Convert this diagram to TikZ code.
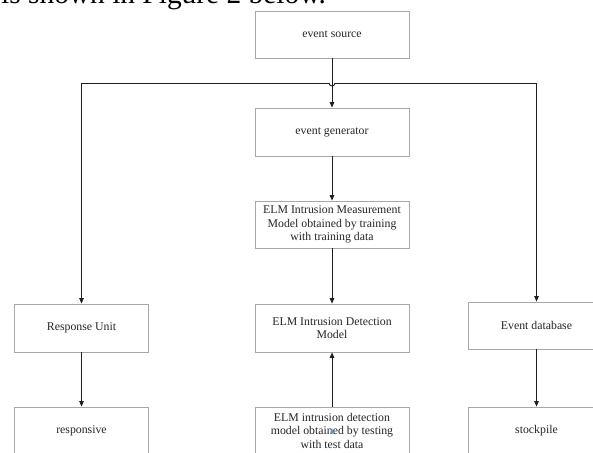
\documentclass[tikz,border=0pt]{standalone}
\usepackage{fontspec}
\setmainfont{Liberation Serif}
\usetikzlibrary{arrows.meta,shadows}
\definecolor{boxline}{HTML}{A8A8A8}
\definecolor{shadowc}{HTML}{C3CBD9}
\definecolor{txt}{HTML}{262626}
\definecolor{cursorblue}{HTML}{5B9BD5}
\tikzset{
  boxnode/.style={draw=boxline, line width=0.8pt, fill=white, inner sep=0pt,
    align=center, text=txt, font=\fontsize{11.8}{13.5}\selectfont,
    drop shadow={shadow xshift=0pt, shadow yshift=-1.2pt, fill=shadowc, opacity=1}},
  conn/.style={draw=black!88, line width=0.9pt},
  arr/.style={conn, -{Triangle[length=5.5pt,width=4.5pt]}},
}
\begin{document}
\begin{tikzpicture}[x=1pt,y=-1pt]
\clip (0,0) rectangle (593,452);
\fill[white] (0,0) rectangle (593,452);
% cut-off header text
\node[anchor=base west, inner sep=0pt, text=black, font=\fontsize{29.4}{30}\selectfont] (hdr) at (1,4) {is shown in Figure 2 below.};
% boxes
\node[boxnode, minimum width=154pt, minimum height=47pt] (src) at (332,34.5) {event source};
\node[boxnode, minimum width=154pt, minimum height=48pt] (gen) at (332,132) {event generator};
\node[boxnode, minimum width=154pt, minimum height=47pt] (meas) at (332,224.5) {ELM Intrusion Measurement\\Model obtained by training\\with training data};
\node[boxnode, minimum width=154pt, minimum height=48pt] (det) at (332,328) {ELM Intrusion Detection\\Model};
\node[boxnode, minimum width=134pt, minimum height=48pt] (resp) at (81.5,328) {Response Unit};
\node[boxnode, minimum width=137pt, minimum height=47pt] (db) at (536.5,325.5) {Event database};
\node[boxnode, minimum width=134pt, minimum height=47pt] (rsv) at (81.5,430.5) {responsive};
\node[boxnode, minimum width=154pt, minimum height=47pt] (test) at (332,430.5) {ELM intrusion detection\\model obtained by testing\\with test data};
\node[boxnode, minimum width=137pt, minimum height=47pt] (stk) at (536.5,430.5) {stockpile};
% connectors
\draw[arr] (src) -- (gen);
\draw[arr] (gen) -- (meas);
\draw[arr] (meas) -- (det);
\draw[arr] (test) -- (det);
\draw[arr] (resp) -- (rsv);
\draw[arr] (db) -- (stk);
\coordinate (hopL) at (329,83);
\coordinate (hopR) at (335,83);
\draw[arr] (hopL) -| (resp.north);
\draw[arr] (hopR) -| (db.north);
\draw[conn] (hopL) arc[start angle=180, end angle=0, radius=3];
% small blue cursor mark
\fill[cursorblue] (330,433.5) -- (334,433.5) -- (332,428.5) -- cycle;
\end{tikzpicture}
\end{document}
